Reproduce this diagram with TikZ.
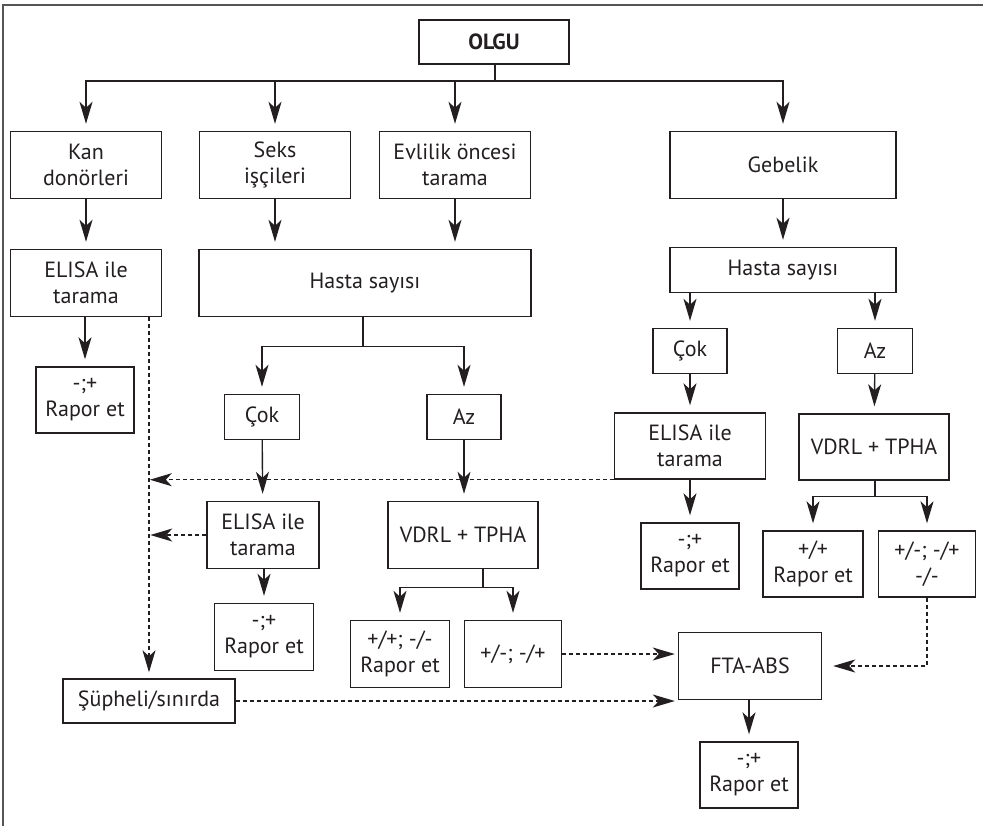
\documentclass[tikz,border=0pt]{standalone}
\usepackage{fontspec}
\setmainfont{PT Sans}
\usetikzlibrary{arrows.meta}
\definecolor{inkc}{HTML}{231F20}
\definecolor{framec}{HTML}{555555}
\tikzset{
  box/.style={draw=inkc, line width=0.7pt, align=center, inner sep=0pt, text=inkc,
    font=\fontsize{11}{13}\selectfont},
  wbox/.style={box, minimum width=75.5pt, minimum height=33.5pt},
  sbox/.style={box, minimum width=49pt, minimum height=33pt},
  cbox/.style={box, minimum width=37pt, minimum height=22.5pt},
  arr/.style={draw=inkc, line width=0.7pt, -{Stealth[length=11pt,width=6.5pt,inset=3pt]}, shorten >=3.5pt},
  darr/.style={draw=inkc, line width=0.6pt, dash pattern=on 2pt off 1.5pt, -{Stealth[length=11pt,width=6.5pt,inset=3pt]}}
}
\begin{document}
\begin{tikzpicture}[x=0.5pt,y=-0.5pt]
\useasboundingbox (0,0) rectangle (983,826);
\draw[framec, line width=0.9pt] (983,5) -- (3,5) -- (3,826);
\node[box, minimum width=75pt, minimum height=22pt, font=\fontsize{11}{13}\selectfont\bfseries] (olgu) at (494,42) {OLGU};
\node[wbox] (kan) at (86,165) {Kan\\donörleri};
\node[wbox] (seks) at (275,165) {Seks\\işçileri};
\node[wbox] (evlilik) at (455,165) {Evlilik öncesi\\tarama};
\node[wbox, minimum width=113pt] (gebelik) at (783,165) {Gebelik};
\node[wbox] (elisaA) at (86,283) {ELISA ile\\tarama};
\node[wbox, minimum width=166pt] (hastaA) at (365,283) {Hasta sayısı};
\node[box, minimum width=113pt, minimum height=22.5pt] (hastaB) at (783,270) {Hasta sayısı};
\node[sbox] (raporA) at (85,400) {-;+\\Rapor et};
\node[cbox, minimum width=37.5pt] (cokA) at (262,417) {Çok};
\node[cbox] (azA) at (464,417) {Az};
\node[cbox] (cokB) at (690,351) {Çok};
\node[cbox, minimum width=37.5pt] (azB) at (875,351) {Az};
\node[wbox, minimum width=56pt] (elisaB) at (263,535) {ELISA ile\\tarama};
\node[wbox, minimum width=75pt] (vdrlA) at (463,535) {VDRL + TPHA};
\node[wbox, minimum height=33pt] (elisaC) at (690,446) {ELISA ile\\tarama};
\node[wbox, minimum width=75pt, minimum height=33pt] (vdrlB) at (874,447) {VDRL + TPHA};
\node[sbox, minimum width=49.5pt, minimum height=33.5pt] (raporB) at (264,637) {-;+\\Rapor et};
\node[sbox] (raporC) at (690,556) {-;+\\Rapor et};
\node[sbox, minimum width=50pt] (pp) at (813,564) {+/+\\Rapor et};
\node[sbox, minimum width=48.5pt] (pmB) at (927,564) {+/-; -/+\\-/-};
\node[sbox, minimum width=49.5pt, minimum height=33.5pt] (ppA) at (400,654) {+/+; -/-\\Rapor et};
\node[sbox, minimum width=48.5pt, minimum height=33.5pt] (pmA) at (513,654) {+/-; -/+};
\node[box, minimum width=86pt, minimum height=22pt] (supheli) at (149,701) {Şüpheli/sınırda};
\node[wbox, minimum width=71.5pt] (fta) at (750,666) {FTA-ABS};
\node[sbox] (raporD) at (749,775) {-;+\\Rapor et};
\coordinate (bus) at (495,81);
\draw[arr] (olgu.south -| bus) -- (bus) -| (kan.north);
\draw[arr] (bus) -| (seks.north);
\draw[arr] (bus) -| (evlilik.north);
\draw[arr] (bus) -| (gebelik.north);
\draw[arr] (kan) -- (elisaA);
\draw[arr] (seks.south) -- (seks.south |- hastaA.north);
\draw[arr] (evlilik.south) -- (evlilik.south |- hastaA.north);
\draw[arr] (gebelik) -- (hastaB);
\draw[arr] (elisaA.south -| raporA.north) -- (raporA.north);
\draw[arr] (hastaA.south) ++(-2,0) coordinate (hs) -- ++(0,29) -| (cokA.north);
\draw[arr] (hs) ++(0,29) -| (azA.north);
\draw[arr] (hastaB.south -| cokB.north) -- (cokB.north);
\draw[arr] (hastaB.south -| azB.north) -- (azB.north);
\draw[arr] (cokA) -- (elisaB);
\draw[arr] (azA.south) -- (azA.south |- vdrlA.north);
\draw[arr] (cokB) -- (elisaC);
\draw[arr] (azB) -- (vdrlB);
\draw[arr] (elisaB.south -| raporB.north) -- (raporB.north);
\draw[arr] (elisaC) -- (raporC);
\draw[arr] (vdrlA.south) ++(20,0) coordinate (vs) -- ++(0,18) -| (ppA.north);
\draw[arr] (vs) ++(0,18) -| (pmA.north);
\draw[arr] (vdrlB.south) ++(1,0) coordinate (ws) -- ++(0,16) -| (pp.north);
\draw[arr] (ws) ++(0,16) -| (pmB.north);
\draw[arr] (fta.south -| raporD.north) -- (raporD.north);
\draw[darr, shorten >=3pt] (elisaA.south -| supheli.north) -- (supheli.north);
\draw[darr] (elisaC.south west) -- ++(-464,0);
\draw[darr] (elisaB.west) -- ++(-56,0);
\draw[darr, shorten >=1.5pt] (supheli.east) -- (supheli.east -| fta.west);
\draw[darr, shorten >=1.5pt] (pmA.east) -- (pmA.east -| fta.west);
\draw[darr, shorten >=5.5pt] (pmB.south) |- (fta.east);
\end{tikzpicture}
\end{document}
